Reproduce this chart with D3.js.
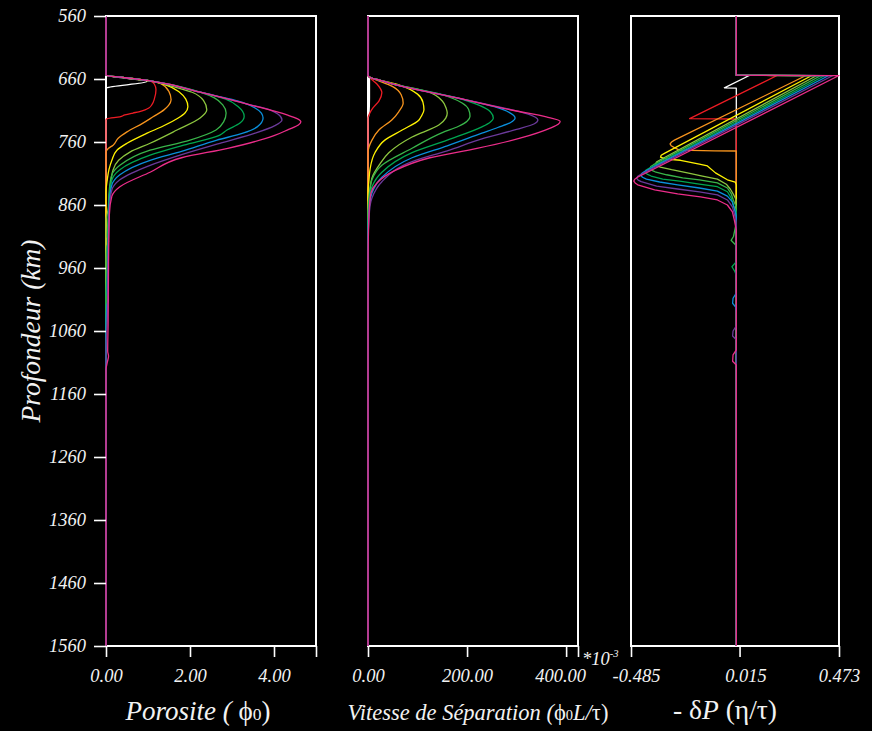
<!DOCTYPE html>
<html>
<head>
<meta charset="utf-8">
<script src="https://cdn.jsdelivr.net/npm/d3@7"></script>
<style>
  html, body { margin: 0; padding: 0; background: #000; }
  svg { display: block; }
</style>
</head>
<body>
<svg id="chart" width="872" height="731"></svg>
<script>
// ---------------- DATA ----------------
const depthTicks = [560, 660, 760, 860, 960, 1060, 1160, 1260, 1360, 1460, 1560];
const porosityTicks = [0, 2, 4, 5];
const porosityTickLabels = ["0.00", "2.00", "4.00", ""];
const vitesseTicks = [0, 200, 400, 424];
const vitesseTickLabels = ["0.00", "200.00", "400.00", ""];
const pressureTicks = [-0.485, 0.015, 0.473];
const pressureTickLabels = ["-0.485", "0.015", "0.473"];

const seriesNames = ["t0", "t1", "t2", "t3", "t4", "t5", "t6", "t7", "t8", "t9"];
const seriesColors = ["#ffffff", "#ed1c24", "#f7941d", "#fff200", "#8dc63f",
                      "#39b54a", "#00a651", "#0a8fdc", "#6b3a9b", "#ec2d8a"];

// Porosity profiles: [depth km, porosity (phi0)]
const porosityProfiles = [
  [[560,0],[654,0],[659,0.5],[664,0.98],[674,0.02],[676,0],[1560,0]],
  [[560,0],[654,0],[658,0.47],[663,1.05],[668,1.15],[677,1.19],[692,1.15],[700,1.10],[706,1.02],[709,0.93],[712,0.78],[714,0.64],[717,0.45],[720,0.33],[723,0.03],[725,0],[1560,0]],
  [[560,0],[654,0],[658,0.47],[663,1.05],[668,1.32],[680,1.50],[693,1.55],[702,1.49],[709,1.38],[720,1.12],[730,0.88],[744,0.50],[754,0.29],[765,0.17],[770,0.06],[773,0.02],[776,0],[1560,0]],
  [[560,0],[654,0],[658,0.47],[663,1.05],[670,1.45],[681,1.75],[692,1.90],[704,1.95],[714,1.88],[722,1.72],[735,1.35],[746,0.98],[762,0.50],[773,0.26],[789,0.14],[804,0.07],[820,0.03],[840,0],[1560,0]],
  [[560,0],[654,0],[658,0.47],[663,1.05],[672,1.6],[681,2.05],[694,2.32],[709,2.40],[722,2.24],[741,1.69],[762,1.05],[776,0.57],[789,0.30],[804,0.17],[831,0.10],[868,0.05],[876,0.02],[884,0],[1560,0]],
  [[560,0],[654,0],[658,0.47],[663,1.05],[681,2.24],[690,2.58],[701,2.78],[714,2.86],[728,2.80],[741,2.62],[757,2.0],[773,1.05],[797,0.33],[812,0.14],[835,0.08],[880,0.05],[910,0.03],[918,0.06],[926,0.02],[955,0],[1560,0]],
  [[560,0],[654,0],[658,0.47],[663,1.05],[681,2.24],[692,2.85],[704,3.15],[719,3.29],[730,3.19],[741,2.88],[749,2.71],[765,1.85],[781,1.05],[804,0.33],[820,0.14],[845,0.08],[900,0.05],[960,0.03],[1011,0],[1560,0]],
  [[560,0],[654,0],[658,0.47],[663,1.05],[681,2.24],[697,3.25],[706,3.55],[714,3.70],[722,3.74],[736,3.60],[746,3.26],[757,2.64],[775,1.8],[789,1.05],[812,0.33],[828,0.14],[855,0.08],[930,0.05],[1000,0.03],[1010,0.05],[1020,0.02],[1058,0],[1560,0]],
  [[560,0],[654,0],[658,0.47],[663,1.05],[681,2.24],[701,3.43],[709,3.9],[716,4.1],[725,4.19],[734,4.02],[746,3.55],[762,2.71],[780,1.8],[797,1.05],[820,0.33],[836,0.14],[865,0.08],[950,0.05],[1040,0.03],[1090,0],[1560,0]],
  [[560,0],[654,0],[658,0.47],[663,1.05],[681,2.24],[701,3.43],[717,4.31],[723,4.55],[728,4.64],[733,4.58],[740,4.35],[750,4.0],[770,2.9],[785,1.8],[808,1.05],[831,0.33],[846,0.14],[875,0.08],[950,0.06],[1050,0.05],[1092,0.04],[1100,0.06],[1110,0.03],[1122,0],[1560,0]]
];

// Separation velocity profiles: [depth km, velocity (x1e-3 phi0 L/tau)]
const vitesseProfiles = [
  [[560,0],[654,0],[660,3],[690,3],[715,2],[725,0],[1560,0]],
  [[560,0],[654,0],[658,4],[668,18],[682,28],[695,22],[706,10],[715,3],[722,0],[1560,0]],
  [[560,0],[654,0],[658,6],[662,18],[672,50],[685,67],[698,71],[712,62],[725,48],[741,22],[757,8],[768,2],[778,0],[1560,0]],
  [[560,0],[654,0],[658,6],[662,25],[670,65],[684,100],[697,111],[709,113],[720,107],[725,103],[741,69],[757,34],[777,14],[804,4],[820,2],[840,0],[1560,0]],
  [[560,0],[654,0],[658,6],[662,25],[668,51],[680,120],[695,150],[707,158],[714,160],[722,157],[733,143],[752,89],[777,42],[795,24],[817,8],[836,4],[852,2],[875,0],[1560,0]],
  [[560,0],[654,0],[658,6],[662,25],[668,51],[685,150],[698,190],[708,203],[719,206],[727,200],[735,183],[745,150],[770,89],[797,28],[820,8],[840,3],[870,0],[1560,0]],
  [[560,0],[654,0],[658,6],[662,25],[668,51],[690,180],[702,225],[712,247],[722,253],[729,246],[736,230],[757,160],[777,89],[808,28],[831,8],[850,3],[890,0],[1560,0]],
  [[560,0],[654,0],[658,6],[662,25],[668,51],[690,180],[704,255],[713,285],[722,297],[729,288],[737,262],[746,230],[766,160],[785,89],[816,28],[841,8],[860,3],[910,0],[1560,0]],
  [[560,0],[654,0],[658,6],[662,25],[668,51],[690,180],[707,280],[716,325],[725,343],[731,336],[740,300],[755,230],[774,160],[791,89],[823,28],[849,8],[870,3],[930,0],[1560,0]],
  [[560,0],[654,0],[658,6],[662,25],[668,51],[690,180],[710,295],[720,360],[727,388],[732,384],[738,368],[754,307],[770,220],[785,125],[805,55],[825,18],[841,6],[860,3],[900,1],[960,0],[1560,0]]
];

// Pressure perturbation profiles: [depth km, -dP (eta/tau)]
const pressureProfiles = [
  [[560,0],[654,0],[654.5,0.060],[674,-0.055],[674.5,0],[1560,0]],
  [[560,0],[654,0],[654.5,0.188],[723,-0.215],[723.5,0],[1560,0]],
  [[560,0],[654,0],[654.5,0.321],[757,-0.285],[760,-0.298],[763,-0.305],[766,-0.300],[769,-0.285],[773,-0.262],[774,-0.10],[774.3,0],[1560,0]],
  [[560,0],[654,0],[654.5,0.348],[778,-0.331],[781,-0.346],[784,-0.349],[787,-0.325],[789,-0.257],[795,-0.170],[798,-0.133],[809,-0.096],[820,-0.041],[823.5,-0.005],[828,0],[1560,0]],
  [[560,0],[654,0],[654.5,0.371],[789,-0.354],[792,-0.368],[795,-0.372],[798,-0.362],[800,-0.350],[804,-0.298],[809,-0.225],[814,-0.156],[819,-0.087],[827,-0.046],[835,-0.027],[842.5,-0.014],[852,0],[1560,0]],
  [[560,0],[654,0],[654.5,0.390],[796,-0.381],[799,-0.394],[802,-0.398],[805,-0.388],[808,-0.370],[812,-0.321],[817,-0.247],[820,-0.170],[825,-0.087],[833,-0.041],[842.5,-0.023],[852,-0.014],[863,0],[888,0],[910,-0.013],[916,-0.024],[923,-0.004],[930,0],[1560,0]],
  [[560,0],[654,0],[654.5,0.408],[802,-0.404],[805,-0.417],[808,-0.421],[811,-0.411],[814,-0.392],[819,-0.339],[822,-0.261],[827,-0.170],[831,-0.087],[839,-0.041],[849,-0.023],[860,-0.014],[871,0],[950,0],[958,-0.020],[966,-0.006],[972,0],[1560,0]],
  [[560,0],[654,0],[654.5,0.426],[807,-0.423],[810,-0.436],[813,-0.440],[816,-0.432],[819,-0.414],[823.5,-0.353],[828,-0.270],[833,-0.170],[838,-0.087],[846,-0.041],[855,-0.018],[866,-0.009],[877.5,0],[1000,0],[1008,-0.015],[1016,-0.017],[1022,-0.003],[1030,0],[1560,0]],
  [[560,0],[654,0],[654.5,0.445],[811,-0.437],[814.5,-0.454],[817.5,-0.459],[820.5,-0.452],[823,-0.438],[830,-0.367],[834.6,-0.270],[839,-0.170],[844,-0.087],[852,-0.041],[863,-0.018],[874,-0.009],[887,0],[1052,0],[1060,-0.015],[1068,-0.017],[1074,0],[1560,0]],
  [[560,0],[654,0],[654.5,0.473],[816,-0.455],[819,-0.468],[822,-0.472],[825,-0.466],[828,-0.454],[836,-0.376],[842.5,-0.270],[847,-0.165],[852,-0.087],[860,-0.041],[871,-0.018],[884,-0.009],[900,0],[1090,0],[1098,-0.015],[1108,-0.017],[1114,0],[1560,0]]
];

// ---------------- DRAW ----------------
const svg = d3.select("#chart");
svg.append("rect").attr("width", 872).attr("height", 731).attr("fill", "#000");

const FONT = "'Liberation Serif', 'Times New Roman', serif";
const TXT = "#f2f2f2";
const plotTop = 16, plotBottom = 646;

const y = d3.scaleLinear().domain([560, 1560]).range([plotTop, plotBottom]);

const panels = [
  { data: porosityProfiles, x: d3.scaleLinear().domain([0, 5]).range([106, 316]),
    ticks: porosityTicks, labels: porosityTickLabels, shift: [0, 0, 0, 0], curve: d3.curveMonotoneY },
  { data: vitesseProfiles, x: d3.scaleLinear().domain([0, 424]).range([368, 578]),
    ticks: vitesseTicks, labels: vitesseTickLabels, shift: [0, 0, -6, 0], curve: d3.curveMonotoneY },
  { data: pressureProfiles, x: d3.scaleLinear().domain([-0.485, 0.473]).range([631, 839]),
    ticks: pressureTicks, labels: pressureTickLabels, shift: [5, 6, 0], curve: d3.curveLinear }
];

panels.forEach((p, pi) => {
  const [x0, x1] = p.x.range();
  // frame
  svg.append("rect")
    .attr("x", x0).attr("y", plotTop)
    .attr("width", x1 - x0).attr("height", plotBottom - plotTop)
    .attr("fill", "none").attr("stroke", "#fff").attr("stroke-width", 2);

  // bottom axis
  const ax = d3.axisBottom(p.x).tickValues(p.ticks)
    .tickFormat((d, i) => p.labels[i]).tickSize(11).tickPadding(12);
  const g = svg.append("g").attr("transform", `translate(0,${plotBottom})`).call(ax);
  g.select(".domain").remove();
  g.selectAll(".tick line").attr("stroke", "#fff").attr("stroke-width", 1.6);
  g.selectAll(".tick text")
    .attr("dx", (d, i) => p.shift[i])
    .attr("fill", TXT).style("font-family", FONT).style("font-style", "italic")
    .style("font-size", "18.5px");

  // curves
  const line = d3.line()
    .x(d => p.x(d[1]))
    .y(d => y(d[0]))
    .curve(p.curve);
  svg.append("g").selectAll("path")
    .data(p.data)
    .join("path")
    .attr("d", line)
    .attr("fill", "none")
    .attr("stroke", (d, i) => seriesColors[i])
    .attr("stroke-width", 1.3)
    .attr("stroke-linejoin", "round");
});

// left axis
const yAxis = d3.axisLeft(y).tickValues(depthTicks).tickFormat(d3.format("d"))
  .tickSize(12).tickPadding(8);
const gy = svg.append("g").attr("transform", "translate(106,0)").call(yAxis);
gy.select(".domain").remove();
gy.selectAll(".tick line").attr("stroke", "#fff").attr("stroke-width", 1.6);
gy.selectAll(".tick text")
  .attr("fill", TXT).style("font-family", FONT).style("font-style", "italic")
  .style("font-size", "18.5px");

// ---------------- TITLES ----------------
svg.append("text")
  .attr("transform", "translate(40,331) rotate(-90)")
  .attr("text-anchor", "middle")
  .attr("fill", TXT).style("font-family", FONT).style("font-style", "italic")
  .style("font-size", "27.5px")
  .text("Profondeur (km)");

// Porosite ( phi0)
const t1 = svg.append("text").attr("x", 198).attr("y", 720)
  .attr("text-anchor", "middle").attr("fill", TXT)
  .style("font-family", FONT).style("font-size", "27px");
t1.append("tspan").style("font-style", "italic").text("Porosite ( ");
t1.append("tspan").text("ϕ");
t1.append("tspan").style("font-size", "17.5px").text("0");
t1.append("tspan").text(")");

// Vitesse de Séparation (phi0 L/tau)
const t2 = svg.append("text").attr("x", 478).attr("y", 720)
  .attr("text-anchor", "middle").attr("fill", TXT)
  .style("font-family", FONT).style("font-size", "22.5px");
t2.append("tspan").style("font-style", "italic").text("Vitesse de Séparation (");
t2.append("tspan").text("ϕ");
t2.append("tspan").style("font-size", "14.5px").text("0");
t2.append("tspan").style("font-style", "italic").text("L/");
t2.append("tspan").text("τ)");

// - dP (eta/tau)
const t3 = svg.append("text").attr("x", 725).attr("y", 719)
  .attr("text-anchor", "middle").attr("fill", TXT)
  .style("font-family", FONT).style("font-size", "27.5px");
t3.append("tspan").text("- δ");
t3.append("tspan").style("font-style", "italic").text("P");
t3.append("tspan").text(" (η/τ)");

// *10^-3
const t4 = svg.append("text").attr("x", 582).attr("y", 665)
  .attr("fill", TXT).style("font-family", FONT).style("font-style", "italic")
  .style("font-size", "18.5px");
t4.append("tspan").text("*10");
t4.append("tspan").attr("dy", -8).style("font-size", "10.5px").text("-3");
</script>
</body>
</html>
